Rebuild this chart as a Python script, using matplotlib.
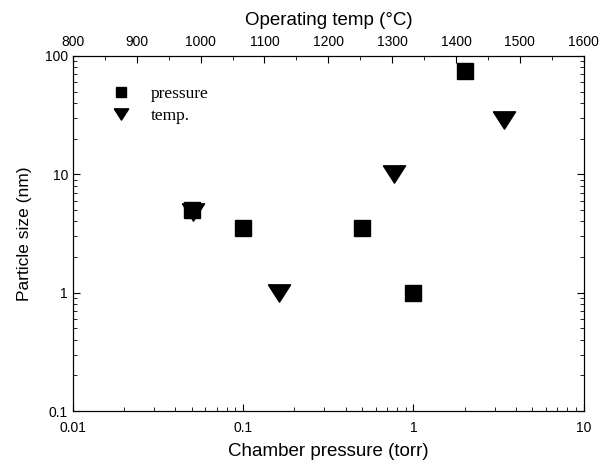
import numpy as np
import matplotlib.pyplot as plt
from matplotlib.ticker import MultipleLocator, LogLocator, NullFormatter, FixedFormatter, FixedLocator

# pressure series (bottom axis)
pressure = [0.05, 0.1, 0.5, 1.0, 2.0]
size_p = [5.0, 3.5, 3.5, 1.0, 75.0]

# temperature series (top axis)
temp = [988, 1122, 1303, 1475]
size_t = [4.8, 1.0, 10.0, 29.0]

plt.rcParams['font.family'] = ['Liberation Sans', 'DejaVu Sans']

fig = plt.figure(figsize=(6.08, 4.66), dpi=100)
ax = fig.add_axes([0.12, 0.118, 0.84, 0.762])

tri = [(-1, 0.78), (1, 0.78), (0, -0.78), (-1, 0.78)]

ax.set_xscale('log')
ax.set_yscale('log')
ax.set_xlim(0.01, 10)
ax.set_ylim(0.1, 100)
hp, = ax.plot(pressure, size_p, 's', color='black', ms=11, label='pressure')

ax2 = ax.twiny()
ax2.set_xlim(800, 1600)
ht, = ax2.plot(temp, size_t, marker=tri, ls='none', color='black', ms=16, label='temp.')

ax.xaxis.set_major_locator(FixedLocator([0.01, 0.1, 1, 10]))
ax.xaxis.set_major_formatter(FixedFormatter(['0.01', '0.1', '1', '10']))
ax.yaxis.set_major_locator(FixedLocator([0.1, 1, 10, 100]))
ax.yaxis.set_major_formatter(FixedFormatter(['0.1', '1', '10', '100']))
ax.xaxis.set_minor_locator(LogLocator(base=10, subs=np.arange(2, 10)))
ax.yaxis.set_minor_locator(LogLocator(base=10, subs=np.arange(2, 10)))
ax.xaxis.set_minor_formatter(NullFormatter())
ax.yaxis.set_minor_formatter(NullFormatter())
ax2.xaxis.set_major_locator(MultipleLocator(100))
ax2.xaxis.set_minor_locator(MultipleLocator(50))

ax.tick_params(which='both', direction='in', right=True, labelsize=10)
ax.tick_params(which='major', length=5)
ax.tick_params(which='minor', length=3)
ax.tick_params(axis='x', which='major', pad=7)
ax2.tick_params(which='both', direction='in', labelsize=10)
ax2.tick_params(which='major', length=5, pad=5)
ax2.tick_params(which='minor', length=3)

ax.set_xlabel('Chamber pressure (torr)', fontsize=13.5, labelpad=6)
ax.set_ylabel('Particle size (nm)', fontsize=12.5, labelpad=9)
ax2.set_xlabel('Operating temp (°C)', fontsize=13.5, labelpad=7)

leg = ax.legend([hp, ht], ['pressure', 'temp.'], loc='upper left',
                bbox_to_anchor=(0.03, 0.96), frameon=False, markerscale=0.65,
                prop={'family': 'Liberation Serif', 'size': 12.5},
                handletextpad=0.7, labelspacing=0.35)

fig.savefig('out.png', dpi=100)
